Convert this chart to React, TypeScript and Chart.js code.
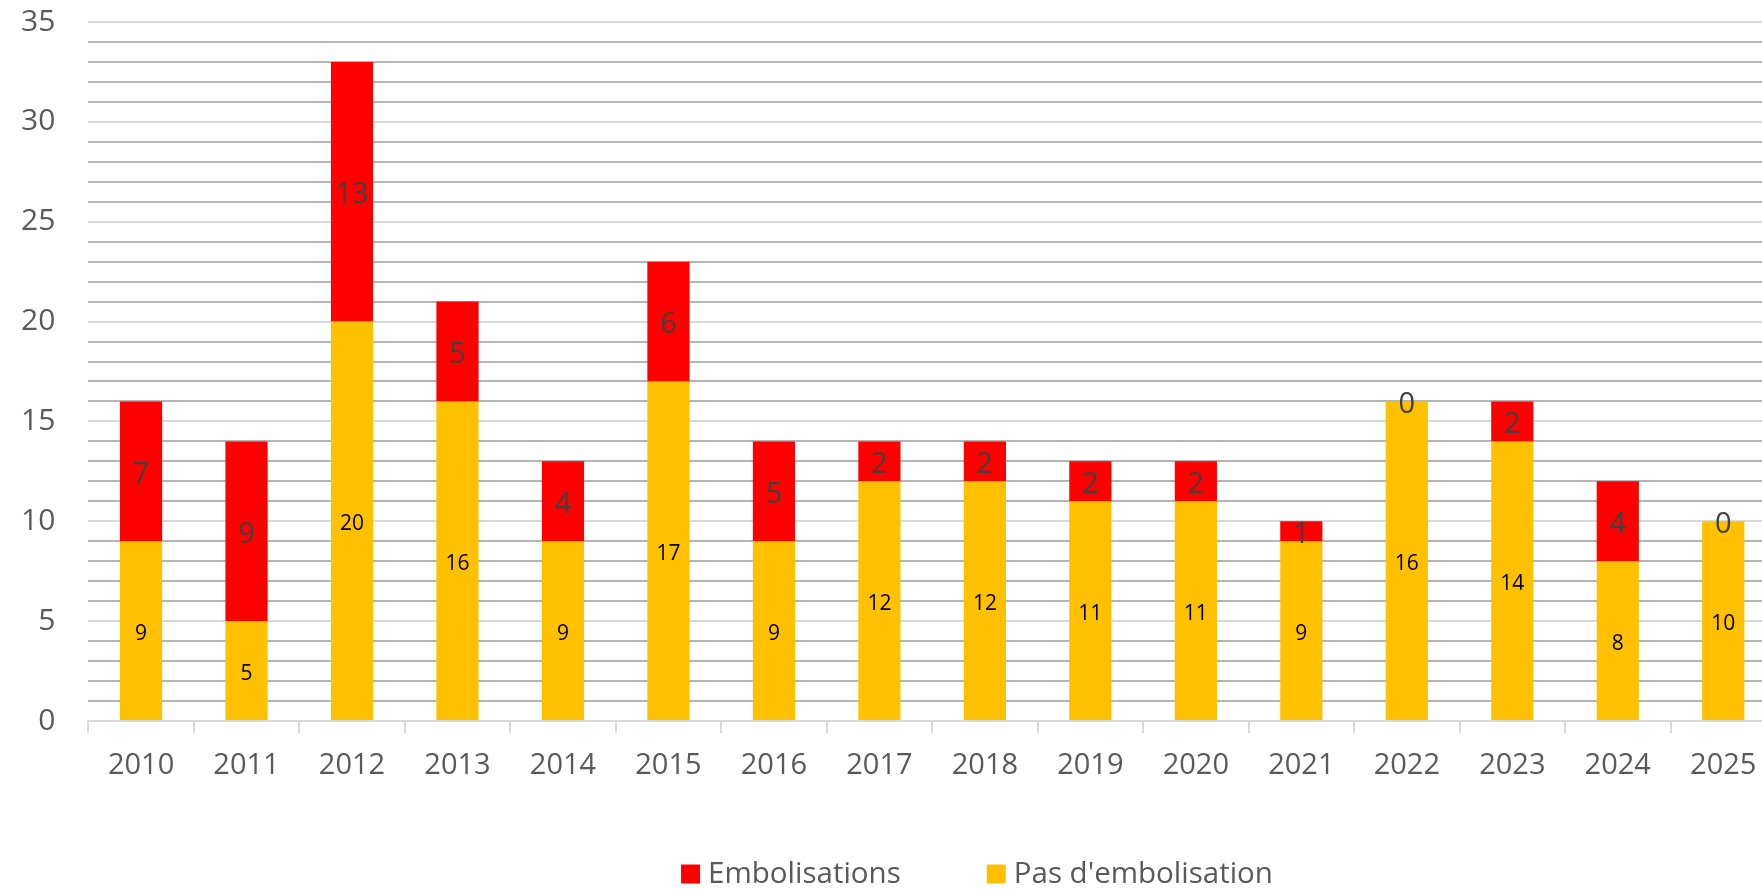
import React, { useEffect, useRef } from "react";
import { Chart, registerables } from "chart.js";

Chart.register(...registerables);

const years = ["2010","2011","2012","2013","2014","2015","2016","2017","2018","2019","2020","2021","2022","2023","2024","2025"];
const pasEmbolisation = [9, 5, 20, 16, 9, 17, 9, 12, 12, 11, 11, 9, 16, 14, 8, 10];
const embolisations = [7, 9, 13, 5, 4, 6, 5, 2, 2, 2, 2, 1, 0, 2, 4, 0];
const seriesLabels = ["Embolisations", "Pas d'embolisation"];
const seriesColors = ["#FF0000", "#FFC000"];

const FONT = "'Open Sans', 'DejaVu Sans', sans-serif";

const valueLabels = {
  id: "valueLabels",
  afterDatasetsDraw(chart: any) {
    const ctx = chart.ctx;
    ctx.save();
    ctx.textAlign = "center";
    ctx.textBaseline = "middle";
    chart.data.datasets.forEach((ds: any, di: number) => {
      const meta = chart.getDatasetMeta(di);
      const isRed = ds.label === seriesLabels[0];
      ctx.font = isRed ? `29px ${FONT}` : `21px ${FONT}`;
      ctx.fillStyle = isRed ? "#404040" : "#000000";
      meta.data.forEach((el: any, i: number) => {
        const v = ds.data[i];
        const y = (el.y + el.base) / 2 + 3;
        ctx.fillText(String(v), el.x, y);
      });
    });
    ctx.restore();
  },
};

const customLegend = {
  id: "customLegend",
  afterDraw(chart: any) {
    const ctx = chart.ctx;
    ctx.save();
    ctx.font = `29.5px ${FONT}`;
    ctx.textBaseline = "middle";
    ctx.textAlign = "left";
    const box = 19;
    const gap = 8;
    const spacing = 86;
    const cy = 874;
    const widths = seriesLabels.map((t) => ctx.measureText(t).width);
    const total = widths.reduce((a, w) => a + box + gap + w, 0) + spacing * (seriesLabels.length - 1);
    let x = 977 - total / 2;
    seriesLabels.forEach((t, i) => {
      ctx.fillStyle = seriesColors[i];
      ctx.fillRect(x, cy - box / 2, box, box);
      x += box + gap;
      ctx.fillStyle = "#595959";
      ctx.fillText(t, x, cy + 1);
      x += widths[i] + spacing;
    });
    ctx.restore();
  },
};

export default function App() {
  const ref = useRef<HTMLCanvasElement | null>(null);
  useEffect(() => {
    if (!ref.current) return;
    const chart = new Chart(ref.current, {
      type: "bar",
      data: {
        labels: years,
        datasets: [
          {
            label: seriesLabels[0],
            data: embolisations,
            backgroundColor: seriesColors[0],
            order: 1,
            stack: "s",
          },
          {
            label: seriesLabels[1],
            data: pasEmbolisation,
            backgroundColor: seriesColors[1],
            order: 0,
            stack: "s",
          },
        ],
      },
      options: {
        responsive: false,
        animation: false,
        datasets: { bar: { barPercentage: 0.4, categoryPercentage: 1 } },
        layout: { padding: { top: 22, right: 4, left: 21, bottom: 0 } },
        plugins: { legend: { display: false }, tooltip: { enabled: false } },
        scales: {
          x: {
            stacked: true,
            afterFit: (s: any) => { s.height = 168; },
            grid: {
              drawOnChartArea: false,
              offset: true,
              tickLength: 12,
              color: "#d9d9d9",
              lineWidth: 2,
            },
            border: { color: "#d9d9d9", width: 2 },
            ticks: {
              color: "#595959",
              font: { family: FONT, size: 29 },
              padding: 15,
              maxRotation: 0,
              autoSkip: false,
            },
          },
          y: {
            stacked: true,
            min: 0,
            max: 35,
            grid: {
              drawTicks: true,
              tickLength: 33,
              tickColor: "rgba(0,0,0,0)",
              lineWidth: 2,
              color: (c: any) => (c.tick && c.tick.value % 5 === 0 ? "#d9d9d9" : "#b4b4b4"),
            },
            border: { display: false },
            ticks: {
              stepSize: 1,
              autoSkip: false,
              padding: 0,
              color: "#595959",
              font: { family: FONT, size: 30 },
              callback: (v: any) => (Number(v) % 5 === 0 ? String(v) : ""),
            },
          },
        },
      },
      plugins: [valueLabels, customLegend],
    });
    return () => chart.destroy();
  }, []);
  return (
    <div style={{ position: "fixed", left: 0, top: 0, width: 1762, height: 889, overflow: "hidden", background: "#fff" }}>
      <canvas ref={ref} width={1780} height={889} style={{ width: 1780, height: 889, display: "block" }} />
    </div>
  );
}
